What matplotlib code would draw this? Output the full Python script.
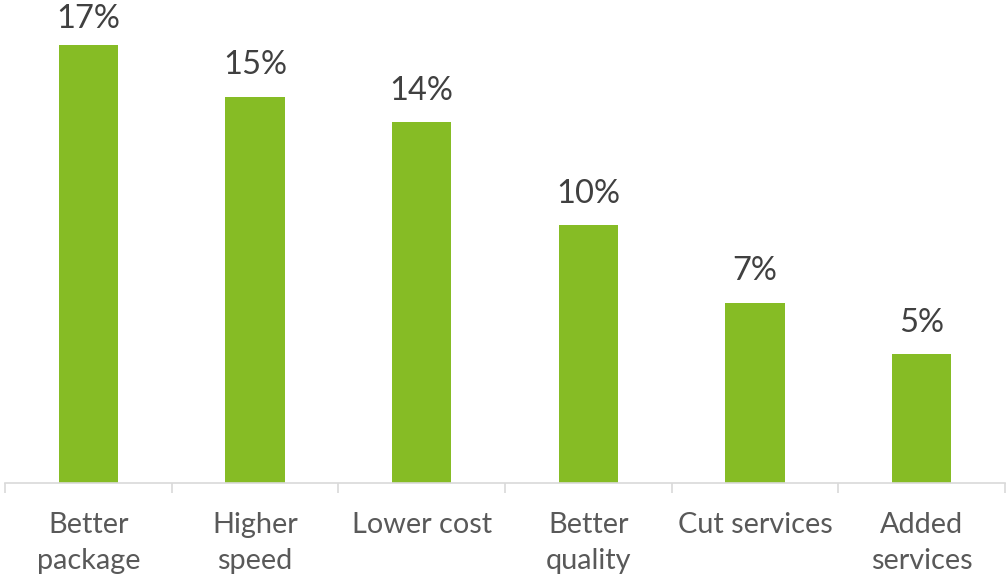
import matplotlib
matplotlib.use("Agg")
import matplotlib.pyplot as plt

categories = ["Better\npackage", "Higher\nspeed", "Lower cost", "Better\nquality", "Cut services", "Added\nservices"]
values = [17, 15, 14, 10, 7, 5]
value_labels = ["17%", "15%", "14%", "10%", "7%", "5%"]

plt.rcParams['font.family'] = ['Lato', 'DejaVu Sans']

W, H = 1006, 579
fig = plt.figure(figsize=(W / 100, H / 100), dpi=100)
base = 483
top_val = 18
ppv = 25.76
top_px = base - top_val * ppv
ax = fig.add_axes([5 / W, (H - base) / H, 1000 / W, (base - top_px) / H])

x = list(range(len(categories)))
ax.bar(x, values, width=0.355, color="#86BC25", zorder=2)
ax.set_xlim(-0.5, len(categories) - 0.5)
ax.set_ylim(0, top_val)

for xi, v, lab in zip(x, values, value_labels):
    off = 12.5 if v == max(values) else 16
    ax.annotate(lab, (xi, v), xytext=(0, off), textcoords="offset points",
                ha="center", va="baseline", fontsize=23.5, color="#404040", clip_on=False)

for s in ["top", "right", "left"]:
    ax.spines[s].set_visible(False)
ax.spines["bottom"].set_color("#d9d9d9")
ax.spines["bottom"].set_linewidth(1.2)
ax.set_yticks([])

ax.set_xticks([i - 0.5 for i in range(len(categories) + 1)], minor=False)
ax.set_xticklabels([])
ax.tick_params(axis="x", which="major", length=7, width=1.2, color="#d9d9d9")
ax.set_xticks(x, minor=True)
ax.set_xticklabels(categories, minor=True, fontsize=20.8, color="#595959", linespacing=1.45)
ax.tick_params(axis="x", which="minor", length=0, pad=21)

fig.savefig("out.png", dpi=100)
